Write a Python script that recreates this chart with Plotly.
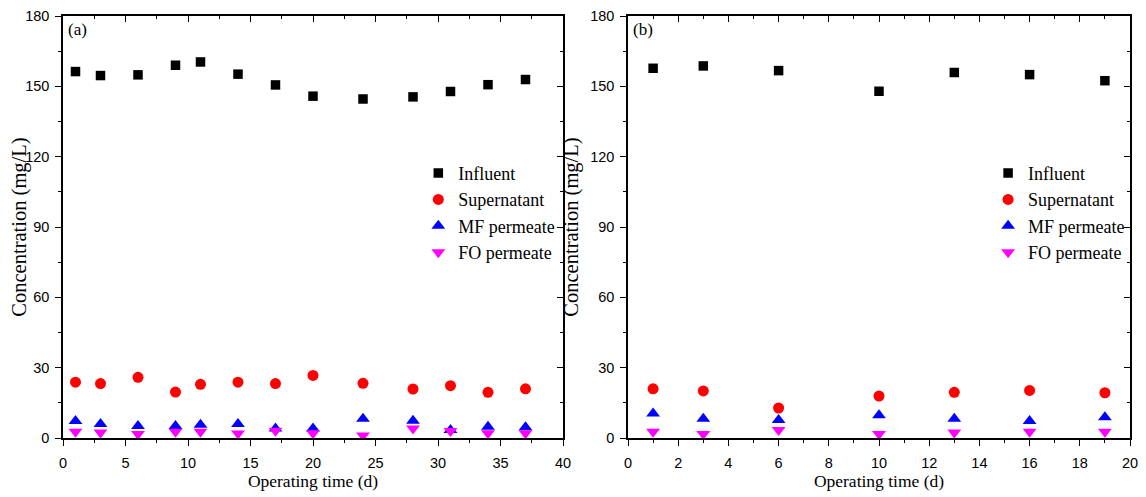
import plotly.graph_objects as go

# panel (a)
days_a = [1, 3, 6, 9, 11, 14, 17, 20, 24, 28, 31, 34, 37]
influent_a = [156.3, 154.6, 154.9, 159.0, 160.4, 155.2, 150.6, 145.8, 144.6, 145.5, 147.8, 150.7, 152.9]
supernatant_a = [23.8, 23.2, 25.9, 19.6, 22.9, 23.8, 23.2, 26.7, 23.3, 20.9, 22.3, 19.5, 21.0]
mf_a = [7.2, 6.0, 5.1, 5.1, 5.7, 6.0, 4.1, 4.0, 8.2, 7.4, 3.4, 4.8, 4.6]
fo_a = [2.7, 2.3, 1.7, 2.7, 2.7, 1.9, 3.1, 2.0, 1.1, 4.0, 3.0, 2.0, 2.0]

# panel (b)
days_b = [1, 3, 6, 10, 13, 16, 19]
influent_b = [157.7, 158.7, 156.7, 147.9, 155.9, 155.0, 152.4]
supernatant_b = [21.0, 20.1, 12.8, 17.9, 19.5, 20.3, 19.3]
mf_b = [10.5, 8.2, 7.7, 9.7, 8.2, 7.3, 8.8]
fo_b = [2.7, 1.7, 3.4, 1.7, 2.3, 2.7, 2.7]

names = ['Influent', 'Supernatant', 'MF permeate', 'FO permeate']
symbols = ['square', 'circle', 'triangle-up', 'triangle-down']
colors = ['#000000', '#FF0000', '#0000FF', '#FF00FF']
sizes = [9.5, 11, 12, 12]

serif = 'Liberation Serif, Times New Roman, serif'
sans = 'Liberation Sans, Arial, sans-serif'

fig = go.Figure()

panels = [
    (days_a, [influent_a, supernatant_a, mf_a, fo_a], 'x', 'y', 'legend'),
    (days_b, [influent_b, supernatant_b, mf_b, fo_b], 'x2', 'y2', 'legend2'),
]
for days, series, xa, ya, leg in panels:
    for i, vals in enumerate(series):
        fig.add_trace(go.Scatter(
            x=days, y=vals, mode='markers', name=names[i],
            xaxis=xa, yaxis=ya, legend=leg, legendgroup=leg + str(i),
            marker=dict(symbol=symbols[i], color=colors[i], size=sizes[i], line=dict(width=0)),
        ))

dom_a = [0, 500 / 1067]
dom_b = [565 / 1067, 1]

def xax(dom, rng, dtick, anchor):
    return dict(domain=dom, range=rng, dtick=dtick, anchor=anchor, automargin=False,
                showgrid=False, zeroline=False, showline=True, linecolor='black', linewidth=1.5,
                ticks='outside', ticklen=6, tickwidth=1.2, tickcolor='black', ticklabelstandoff=5,
                ticklabeloverflow='allow',
                minor=dict(ticks='outside', ticklen=3, tickwidth=1.2, tickcolor='black', dtick=dtick / 2),
                tickfont=dict(family=sans, size=14.5, color='black'),
                title=dict(text='Operating time (d)', font=dict(family=serif, size=17.5, color='black'), standoff=3))

def yax(anchor):
    return dict(range=[0, 180], dtick=30, anchor=anchor, domain=[0, 1], automargin=False,
                showgrid=False, zeroline=False, showline=True, linecolor='black', linewidth=1.5,
                ticks='outside', ticklen=6, tickwidth=1.2, tickcolor='black', ticklabelstandoff=3,
                ticklabeloverflow='allow',
                minor=dict(ticks='outside', ticklen=3, tickwidth=1.2, tickcolor='black', dtick=15),
                tickfont=dict(family=sans, size=14.5, color='black'),
                title=dict(text='Concentration (mg/L)', font=dict(family=serif, size=20.5, color='black'),
                           standoff=6))

def mirror_x(dom, rng, dtick, anchor, over):
    return dict(domain=dom, range=rng, dtick=dtick, anchor=anchor, overlaying=over, side='top',
                automargin=False,
                showgrid=False, zeroline=False, showline=True, linecolor='black', linewidth=1.5,
                ticks='inside', ticklen=6, tickwidth=1.2, tickcolor='black',
                minor=dict(ticks='inside', ticklen=3, tickwidth=1.2, tickcolor='black', dtick=dtick / 2),
                showticklabels=False)

def mirror_y(anchor, over):
    return dict(range=[0, 180], dtick=30, anchor=anchor, overlaying=over, side='right',
                automargin=False,
                showgrid=False, zeroline=False, showline=True, linecolor='black', linewidth=1.5,
                ticks='inside', ticklen=6, tickwidth=1.2, tickcolor='black',
                minor=dict(ticks='inside', ticklen=3, tickwidth=1.2, tickcolor='black', dtick=15),
                showticklabels=False)

# empty traces so the mirror axes are drawn
fig.add_trace(go.Scatter(x=[None], y=[None], xaxis='x3', yaxis='y3', showlegend=False, hoverinfo='skip'))
fig.add_trace(go.Scatter(x=[None], y=[None], xaxis='x4', yaxis='y4', showlegend=False, hoverinfo='skip'))

legend_style = dict(font=dict(family=serif, size=18, color='black'), bgcolor='rgba(0,0,0,0)',
                    tracegroupgap=0, itemwidth=30, xanchor='left', yanchor='top')

# the html page has an 8px body margin, so margins are shifted to compensate
fig.update_layout(
    width=1146, height=497,
    margin=dict(l=55, r=24, t=8, b=67),
    paper_bgcolor='white', plot_bgcolor='white',
    xaxis=xax(dom_a, [0, 40], 5, 'y'),
    yaxis=yax('x'),
    xaxis2=xax(dom_b, [0, 20], 2, 'y2'),
    yaxis2=yax('x2'),
    xaxis3=mirror_x(dom_a, [0, 40], 5, 'y3', 'x'),
    yaxis3=mirror_y('x3', 'y'),
    xaxis4=mirror_x(dom_b, [0, 20], 2, 'y4', 'x2'),
    yaxis4=mirror_y('x4', 'y2'),
    legend=dict(x=0.333, y=0.671, **legend_style),
    legend2=dict(x=0.867, y=0.671, **legend_style),
    annotations=[
        dict(text='(a)', x=0.003, y=0.995, xref='paper', yref='paper', xanchor='left', yanchor='top',
             showarrow=False, font=dict(family=serif, size=17, color='black')),
        dict(text='(b)', x=dom_b[0] + 0.003, y=0.995, xref='paper', yref='paper', xanchor='left', yanchor='top',
             showarrow=False, font=dict(family=serif, size=17, color='black')),
    ],
)

fig.write_html('out.html')
